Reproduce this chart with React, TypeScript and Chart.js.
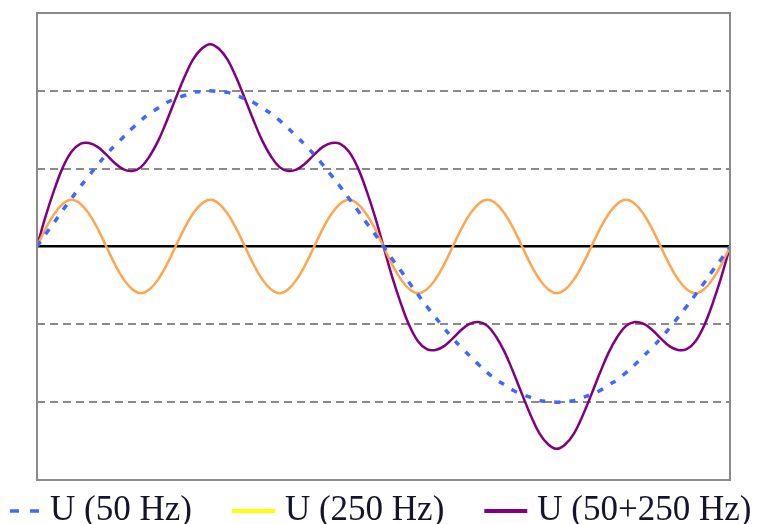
import React, { useEffect, useRef } from 'react';
import { Chart, registerables } from 'chart.js';

Chart.register(...registerables);

// time axis (ms), one period of 50 Hz
const timeMs = [
  0, 0.25, 0.5, 0.75, 1, 1.25, 1.5, 1.75, 2, 2.25, 2.5, 2.75, 3, 3.25, 3.5, 3.75,
  4, 4.25, 4.5, 4.75, 5, 5.25, 5.5, 5.75, 6, 6.25, 6.5, 6.75, 7, 7.25, 7.5, 7.75,
  8, 8.25, 8.5, 8.75, 9, 9.25, 9.5, 9.75, 10, 10.25, 10.5, 10.75, 11, 11.25, 11.5, 11.75,
  12, 12.25, 12.5, 12.75, 13, 13.25, 13.5, 13.75, 14, 14.25, 14.5, 14.75, 15, 15.25, 15.5, 15.75,
  16, 16.25, 16.5, 16.75, 17, 17.25, 17.5, 17.75, 18, 18.25, 18.5, 18.75, 19, 19.25, 19.5, 19.75, 20,
];

const u50 = [
  0, 0.16, 0.31, 0.47, 0.62, 0.77, 0.91, 1.05, 1.18, 1.3, 1.41, 1.52, 1.62, 1.71, 1.78, 1.85, 1.9, 1.94, 1.98, 1.99, 2.0,
  1.99, 1.98, 1.94, 1.9, 1.85, 1.78, 1.71, 1.62, 1.52, 1.41, 1.3, 1.18, 1.05, 0.91, 0.77, 0.62, 0.47, 0.31, 0.16, 0,
  -0.16, -0.31, -0.47, -0.62, -0.77, -0.91, -1.05, -1.18, -1.3, -1.41, -1.52, -1.62, -1.71, -1.78, -1.85, -1.9, -1.94, -1.98, -1.99, -2.0,
  -1.99, -1.98, -1.94, -1.9, -1.85, -1.78, -1.71, -1.62, -1.52, -1.41, -1.3, -1.18, -1.05, -0.91, -0.77, -0.62, -0.47, -0.31, -0.16, 0,
];

const u250 = [
  0, 0.23, 0.42, 0.55, 0.6, 0.55, 0.42, 0.23, 0, -0.23, -0.42, -0.55, -0.6, -0.55, -0.42, -0.23,
  0, 0.23, 0.42, 0.55, 0.6, 0.55, 0.42, 0.23, 0, -0.23, -0.42, -0.55, -0.6, -0.55, -0.42, -0.23,
  0, 0.23, 0.42, 0.55, 0.6, 0.55, 0.42, 0.23, 0, -0.23, -0.42, -0.55, -0.6, -0.55, -0.42, -0.23,
  0, 0.23, 0.42, 0.55, 0.6, 0.55, 0.42, 0.23, 0, -0.23, -0.42, -0.55, -0.6, -0.55, -0.42, -0.23,
  0, 0.23, 0.42, 0.55, 0.6, 0.55, 0.42, 0.23, 0, -0.23, -0.42, -0.55, -0.6, -0.55, -0.42, -0.23,
  0,
];

const u50plus250 = [
  0, 0.39, 0.73, 1.02, 1.22, 1.32, 1.33, 1.28, 1.18, 1.07, 0.99, 0.97, 1.02, 1.16, 1.36, 1.62, 1.9, 2.17, 2.4, 2.54, 2.6,
  2.54, 2.4, 2.17, 1.9, 1.62, 1.36, 1.16, 1.02, 0.97, 0.99, 1.07, 1.18, 1.28, 1.33, 1.32, 1.22, 1.02, 0.73, 0.39, 0,
  -0.39, -0.73, -1.02, -1.22, -1.32, -1.33, -1.28, -1.18, -1.07, -0.99, -0.97, -1.02, -1.16, -1.36, -1.62, -1.9, -2.17, -2.4, -2.54, -2.6,
  -2.54, -2.4, -2.17, -1.9, -1.62, -1.36, -1.16, -1.02, -0.97, -0.99, -1.07, -1.18, -1.28, -1.33, -1.32, -1.22, -1.02, -0.73, -0.39, 0,
];

const seriesLabels = ['U (50 Hz)', 'U (250 Hz)', 'U (50+250 Hz)'];
const yTicks = [-3, -2, -1, 0, 1, 2, 3];

const lineColors = ['#4068ff', '#ffa64f', '#800080'];
const legendColors = ['#4068ff', '#ffff00', '#800080'];

const framePlugin = {
  id: 'plotFrame',
  afterDraw(chart: any) {
    const { ctx, chartArea: a } = chart;
    ctx.save();
    ctx.strokeStyle = '#8a8a8a';
    ctx.lineWidth = 2;
    ctx.strokeRect(a.left, a.top, a.right - a.left, a.bottom - a.top);
    ctx.restore();
  },
};

const LEGEND_START_X = -3;
const SWATCH_W = 43;
const SWATCH_Y = 511;
const TEXT_Y = 520;

const legendPlugin = {
  id: 'bottomLegend',
  afterDraw(chart: any) {
    const ctx = chart.ctx;
    ctx.save();
    ctx.font = '35px "Liberation Serif"';
    ctx.textBaseline = 'alphabetic';
    ctx.textAlign = 'left';
    let x = LEGEND_START_X;
    chart.data.datasets.forEach((ds: any, i: number) => {
      ctx.beginPath();
      ctx.strokeStyle = legendColors[i];
      if (i === 0) {
        // dashed swatch: only the visible part of the cropped legend
        ctx.lineWidth = 3.5;
        ctx.setLineDash([9, 11]);
        ctx.lineDashOffset = 0;
        ctx.moveTo(x + 13, SWATCH_Y);
      } else {
        ctx.lineWidth = 4;
        ctx.setLineDash([]);
        ctx.moveTo(x, SWATCH_Y);
      }
      ctx.lineTo(x + SWATCH_W, SWATCH_Y);
      ctx.stroke();
      ctx.setLineDash([]);
      x += SWATCH_W + 10;
      ctx.fillStyle = '#14142a';
      ctx.fillText(ds.label, x, TEXT_Y);
      x += ctx.measureText(ds.label).width + 40;
    });
    ctx.restore();
  },
};

export default function App() {
  const canvasRef = useRef<HTMLCanvasElement>(null);

  useEffect(() => {
    if (!canvasRef.current) return;
    const series = [u50, u250, u50plus250];
    const chart = new Chart(canvasRef.current, {
      type: 'line',
      data: {
        datasets: series.map((vals, i) => ({
          label: seriesLabels[i],
          data: timeMs.map((t, k) => ({ x: t, y: vals[k] })),
          borderColor: lineColors[i],
          borderWidth: i === 0 ? 3.5 : 2.5,
          borderDash: i === 0 ? [6, 9] : [],
          pointRadius: 0,
          tension: 0.4,
          fill: false,
        })),
      },
      options: {
        responsive: false,
        animation: false,
        layout: { padding: { left: 37, top: 13, right: 31, bottom: 44 } },
        plugins: {
          legend: { display: false },
          tooltip: { enabled: false },
        },
        scales: {
          x: { type: 'linear', min: 0, max: 20, display: false },
          y: {
            min: -3,
            max: 3,
            afterBuildTicks: (scale: any) => {
              scale.ticks = yTicks.map((v) => ({ value: v }));
            },
            ticks: { display: false },
            grid: {
              drawTicks: false,
              color: (c: any) =>
                c.tick && c.tick.value === 0
                  ? '#000000'
                  : c.tick && Math.abs(c.tick.value) === 3
                  ? 'rgba(0,0,0,0)'
                  : '#8a8a8a',
              lineWidth: (c: any) => (c.tick && c.tick.value === 0 ? 2.5 : 2),
            },
            border: {
              display: false,
              dash: (c: any) => (c.tick && c.tick.value === 0 ? [] : [8, 5]),
            },
          },
        },
      },
      plugins: [framePlugin, legendPlugin],
    } as any);
    return () => chart.destroy();
  }, []);

  return (
    <div style={{ position: 'absolute', left: 0, top: 0, width: 761, height: 524, background: '#fff' }}>
      <canvas ref={canvasRef} width={761} height={524} />
    </div>
  );
}
